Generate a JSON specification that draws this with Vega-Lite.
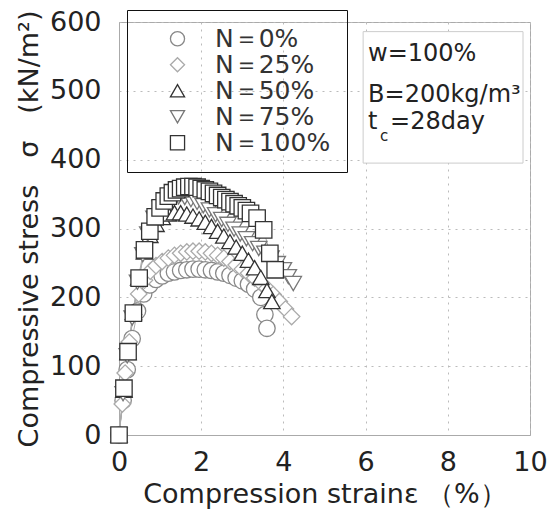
{
  "$schema": "https://vega.github.io/schema/vega-lite/v6.json",
  "width": 411,
  "height": 413,
  "autosize": "none",
  "padding": {"left": 119, "top": 22, "right": 22, "bottom": 87},
  "background": "white",
  "data": {"values": [
    {"N": "N＝0%", "strain": 0, "stress": 0},
    {"N": "N＝0%", "strain": 0.1, "stress": 50},
    {"N": "N＝0%", "strain": 0.2, "stress": 95},
    {"N": "N＝0%", "strain": 0.32, "stress": 140},
    {"N": "N＝0%", "strain": 0.45, "stress": 180},
    {"N": "N＝0%", "strain": 0.6, "stress": 205},
    {"N": "N＝0%", "strain": 0.75, "stress": 218},
    {"N": "N＝0%", "strain": 0.9, "stress": 226},
    {"N": "N＝0%", "strain": 1.05, "stress": 231},
    {"N": "N＝0%", "strain": 1.2, "stress": 235},
    {"N": "N＝0%", "strain": 1.35, "stress": 237},
    {"N": "N＝0%", "strain": 1.5, "stress": 239},
    {"N": "N＝0%", "strain": 1.65, "stress": 240},
    {"N": "N＝0%", "strain": 1.8, "stress": 241},
    {"N": "N＝0%", "strain": 1.95, "stress": 241},
    {"N": "N＝0%", "strain": 2.1, "stress": 240},
    {"N": "N＝0%", "strain": 2.25, "stress": 239},
    {"N": "N＝0%", "strain": 2.4, "stress": 237},
    {"N": "N＝0%", "strain": 2.55, "stress": 235},
    {"N": "N＝0%", "strain": 2.7, "stress": 232},
    {"N": "N＝0%", "strain": 2.85, "stress": 228},
    {"N": "N＝0%", "strain": 3.0, "stress": 224},
    {"N": "N＝0%", "strain": 3.15, "stress": 219},
    {"N": "N＝0%", "strain": 3.3, "stress": 212},
    {"N": "N＝0%", "strain": 3.45, "stress": 200},
    {"N": "N＝0%", "strain": 3.55, "stress": 175},
    {"N": "N＝0%", "strain": 3.6, "stress": 155},
    {"N": "N＝25%", "strain": 0, "stress": 0},
    {"N": "N＝25%", "strain": 0.08, "stress": 45},
    {"N": "N＝25%", "strain": 0.15, "stress": 90},
    {"N": "N＝25%", "strain": 0.25, "stress": 135},
    {"N": "N＝25%", "strain": 0.36, "stress": 175},
    {"N": "N＝25%", "strain": 0.48, "stress": 205},
    {"N": "N＝25%", "strain": 0.62, "stress": 225},
    {"N": "N＝25%", "strain": 0.76, "stress": 238},
    {"N": "N＝25%", "strain": 0.9, "stress": 246},
    {"N": "N＝25%", "strain": 1.05, "stress": 252},
    {"N": "N＝25%", "strain": 1.2, "stress": 257},
    {"N": "N＝25%", "strain": 1.35, "stress": 261},
    {"N": "N＝25%", "strain": 1.5, "stress": 264},
    {"N": "N＝25%", "strain": 1.65, "stress": 266},
    {"N": "N＝25%", "strain": 1.8, "stress": 267},
    {"N": "N＝25%", "strain": 1.95, "stress": 267},
    {"N": "N＝25%", "strain": 2.1, "stress": 266},
    {"N": "N＝25%", "strain": 2.25, "stress": 264},
    {"N": "N＝25%", "strain": 2.4, "stress": 261},
    {"N": "N＝25%", "strain": 2.55, "stress": 257},
    {"N": "N＝25%", "strain": 2.7, "stress": 252},
    {"N": "N＝25%", "strain": 2.85, "stress": 247},
    {"N": "N＝25%", "strain": 3.0, "stress": 241},
    {"N": "N＝25%", "strain": 3.15, "stress": 235},
    {"N": "N＝25%", "strain": 3.3, "stress": 228},
    {"N": "N＝25%", "strain": 3.45, "stress": 221},
    {"N": "N＝25%", "strain": 3.6, "stress": 213},
    {"N": "N＝25%", "strain": 3.75, "stress": 204},
    {"N": "N＝25%", "strain": 3.9, "stress": 194},
    {"N": "N＝25%", "strain": 4.05, "stress": 183},
    {"N": "N＝25%", "strain": 4.2, "stress": 172},
    {"N": "N＝50%", "strain": 0, "stress": 0},
    {"N": "N＝50%", "strain": 0.12, "stress": 65},
    {"N": "N＝50%", "strain": 0.22, "stress": 120},
    {"N": "N＝50%", "strain": 0.35, "stress": 178},
    {"N": "N＝50%", "strain": 0.48, "stress": 228},
    {"N": "N＝50%", "strain": 0.62, "stress": 266},
    {"N": "N＝50%", "strain": 0.75, "stress": 290},
    {"N": "N＝50%", "strain": 0.9, "stress": 306},
    {"N": "N＝50%", "strain": 1.05, "stress": 316},
    {"N": "N＝50%", "strain": 1.2, "stress": 321},
    {"N": "N＝50%", "strain": 1.35, "stress": 323},
    {"N": "N＝50%", "strain": 1.5, "stress": 323},
    {"N": "N＝50%", "strain": 1.65, "stress": 321},
    {"N": "N＝50%", "strain": 1.8, "stress": 318},
    {"N": "N＝50%", "strain": 1.95, "stress": 314},
    {"N": "N＝50%", "strain": 2.1, "stress": 309},
    {"N": "N＝50%", "strain": 2.25, "stress": 303},
    {"N": "N＝50%", "strain": 2.4, "stress": 296},
    {"N": "N＝50%", "strain": 2.55, "stress": 289},
    {"N": "N＝50%", "strain": 2.7, "stress": 281},
    {"N": "N＝50%", "strain": 2.85, "stress": 273},
    {"N": "N＝50%", "strain": 3.0, "stress": 264},
    {"N": "N＝50%", "strain": 3.15, "stress": 254},
    {"N": "N＝50%", "strain": 3.3, "stress": 243},
    {"N": "N＝50%", "strain": 3.45, "stress": 229},
    {"N": "N＝50%", "strain": 3.6, "stress": 210},
    {"N": "N＝50%", "strain": 3.72, "stress": 194},
    {"N": "N＝75%", "strain": 0, "stress": 0},
    {"N": "N＝75%", "strain": 0.1, "stress": 60},
    {"N": "N＝75%", "strain": 0.2, "stress": 115},
    {"N": "N＝75%", "strain": 0.32, "stress": 170},
    {"N": "N＝75%", "strain": 0.45, "stress": 222},
    {"N": "N＝75%", "strain": 0.58, "stress": 262},
    {"N": "N＝75%", "strain": 0.7, "stress": 292},
    {"N": "N＝75%", "strain": 0.85, "stress": 315},
    {"N": "N＝75%", "strain": 1.0, "stress": 330},
    {"N": "N＝75%", "strain": 1.15, "stress": 339},
    {"N": "N＝75%", "strain": 1.3, "stress": 344},
    {"N": "N＝75%", "strain": 1.45, "stress": 346},
    {"N": "N＝75%", "strain": 1.6, "stress": 345},
    {"N": "N＝75%", "strain": 1.75, "stress": 342},
    {"N": "N＝75%", "strain": 1.9, "stress": 338},
    {"N": "N＝75%", "strain": 2.05, "stress": 333},
    {"N": "N＝75%", "strain": 2.2, "stress": 327},
    {"N": "N＝75%", "strain": 2.35, "stress": 320},
    {"N": "N＝75%", "strain": 2.5, "stress": 313},
    {"N": "N＝75%", "strain": 2.65, "stress": 306},
    {"N": "N＝75%", "strain": 2.8, "stress": 299},
    {"N": "N＝75%", "strain": 2.95, "stress": 292},
    {"N": "N＝75%", "strain": 3.1, "stress": 285},
    {"N": "N＝75%", "strain": 3.25, "stress": 278},
    {"N": "N＝75%", "strain": 3.4, "stress": 271},
    {"N": "N＝75%", "strain": 3.55, "stress": 264},
    {"N": "N＝75%", "strain": 3.7, "stress": 257},
    {"N": "N＝75%", "strain": 3.85, "stress": 249},
    {"N": "N＝75%", "strain": 4.0, "stress": 240},
    {"N": "N＝75%", "strain": 4.12, "stress": 230},
    {"N": "N＝75%", "strain": 4.24, "stress": 220},
    {"N": "N＝100%", "strain": 0, "stress": 0},
    {"N": "N＝100%", "strain": 0.12, "stress": 68},
    {"N": "N＝100%", "strain": 0.22, "stress": 121},
    {"N": "N＝100%", "strain": 0.35, "stress": 177},
    {"N": "N＝100%", "strain": 0.49, "stress": 228},
    {"N": "N＝100%", "strain": 0.62, "stress": 269},
    {"N": "N＝100%", "strain": 0.75, "stress": 296},
    {"N": "N＝100%", "strain": 0.88, "stress": 317},
    {"N": "N＝100%", "strain": 1.0, "stress": 330},
    {"N": "N＝100%", "strain": 1.1, "stress": 340},
    {"N": "N＝100%", "strain": 1.2, "stress": 347},
    {"N": "N＝100%", "strain": 1.3, "stress": 352},
    {"N": "N＝100%", "strain": 1.4, "stress": 356},
    {"N": "N＝100%", "strain": 1.5, "stress": 358},
    {"N": "N＝100%", "strain": 1.6, "stress": 360},
    {"N": "N＝100%", "strain": 1.7, "stress": 361},
    {"N": "N＝100%", "strain": 1.8, "stress": 361},
    {"N": "N＝100%", "strain": 1.9, "stress": 360},
    {"N": "N＝100%", "strain": 2.0, "stress": 358},
    {"N": "N＝100%", "strain": 2.1, "stress": 356},
    {"N": "N＝100%", "strain": 2.2, "stress": 354},
    {"N": "N＝100%", "strain": 2.3, "stress": 351},
    {"N": "N＝100%", "strain": 2.4, "stress": 348},
    {"N": "N＝100%", "strain": 2.5, "stress": 345},
    {"N": "N＝100%", "strain": 2.6, "stress": 342},
    {"N": "N＝100%", "strain": 2.7, "stress": 339},
    {"N": "N＝100%", "strain": 2.8, "stress": 336},
    {"N": "N＝100%", "strain": 2.9, "stress": 333},
    {"N": "N＝100%", "strain": 3.0, "stress": 330},
    {"N": "N＝100%", "strain": 3.1, "stress": 326},
    {"N": "N＝100%", "strain": 3.2, "stress": 322},
    {"N": "N＝100%", "strain": 3.36, "stress": 315},
    {"N": "N＝100%", "strain": 3.52, "stress": 298},
    {"N": "N＝100%", "strain": 3.67, "stress": 264},
    {"N": "N＝100%", "strain": 3.8, "stress": 240}
  ]},
  "layer": [
    {
      "mark": {"type": "line", "strokeWidth": 1, "color": "#aaaaaa"},
      "encoding": {
        "x": {"field": "strain", "type": "quantitative", "scale": {"domain": [0, 10], "nice": false},
              "axis": {"values": [0, 2, 4, 6, 8, 10], "title": "Compression strainε （%）", "labelPadding": 14, "titlePadding": 6, "labelFlush": false}},
        "y": {"field": "stress", "type": "quantitative", "scale": {"domain": [0, 600], "nice": false},
              "axis": {"values": [0, 100, 200, 300, 400, 500, 600], "title": "Compressive stress　σ　(kN/m²)", "labelPadding": 18, "titlePadding": 6, "labelFlush": false}},
        "detail": {"field": "N", "type": "nominal"}
      }
    },
    {
      "mark": {"type": "point", "fill": "white", "opacity": 1, "strokeWidth": 1.3, "size": 270},
      "encoding": {
        "x": {"field": "strain", "type": "quantitative"},
        "y": {"field": "stress", "type": "quantitative"},
        "shape": {"field": "N", "type": "nominal",
                  "scale": {"domain": ["N＝0%", "N＝25%", "N＝50%", "N＝75%", "N＝100%"], "range": ["circle", "diamond", "triangle-up", "triangle-down", "square"]},
                  "legend": {"orient": "none", "legendX": 8, "legendY": -12, "title": null, "clipHeight": 25.5, "rowPadding": 0, "padding": 16,
                             "strokeColor": "#111111", "symbolSize": 200, "symbolOffset": 22, "labelOffset": 25,
                             "labelFontSize": 25, "labelFont": "DejaVu Sans", "labelColor": "#333333", "symbolFillColor": "white", "symbolStrokeWidth": 1.3, "labelLimit": 0}},
        "stroke": {"field": "N", "type": "nominal",
                   "scale": {"domain": ["N＝0%", "N＝25%", "N＝50%", "N＝75%", "N＝100%"], "range": ["#888888", "#aaaaaa", "#333333", "#777777", "#333333"]},
                   "legend": {"orient": "none", "legendX": 8, "legendY": -12, "title": null, "clipHeight": 25.5, "rowPadding": 0, "padding": 16,
                             "strokeColor": "#111111", "symbolSize": 200, "symbolOffset": 22, "labelOffset": 25,
                             "labelFontSize": 25, "labelFont": "DejaVu Sans", "labelColor": "#333333", "symbolFillColor": "white", "symbolStrokeWidth": 1.3, "labelLimit": 0}}
      }
    },
    {
      "data": {"values": [{"box": "info"}]},
      "mark": {"type": "rect", "fill": "white", "stroke": "#cccccc", "strokeWidth": 1},
      "encoding": {
        "x": {"datum": 5.94}, "x2": {"datum": 9.83},
        "y": {"datum": 586}, "y2": {"datum": 395}
      }
    },
    {
      "data": {"values": [{"label": "w=100%"}]},
      "mark": {"type": "text", "align": "left", "baseline": "middle", "fontSize": 24, "font": "DejaVu Sans", "color": "#222222"},
      "encoding": {"x": {"datum": 6.06}, "y": {"datum": 554}, "text": {"field": "label"}}
    },
    {
      "data": {"values": [{"label": "B=200kg/m³"}]},
      "mark": {"type": "text", "align": "left", "baseline": "middle", "fontSize": 24, "font": "DejaVu Sans", "color": "#222222"},
      "encoding": {"x": {"datum": 6.06}, "y": {"datum": 494}, "text": {"field": "label"}}
    },
    {
      "data": {"values": [{"label": "t"}]},
      "mark": {"type": "text", "align": "left", "baseline": "middle", "fontSize": 24, "font": "DejaVu Sans", "color": "#222222"},
      "encoding": {"x": {"datum": 6.06}, "y": {"datum": 455}, "text": {"field": "label"}}
    },
    {
      "data": {"values": [{"label": "c"}]},
      "mark": {"type": "text", "align": "left", "baseline": "middle", "fontSize": 15, "font": "DejaVu Sans", "color": "#222222", "dx": 12},
      "encoding": {"x": {"datum": 6.06}, "y": {"datum": 435}, "text": {"field": "label"}}
    },
    {
      "data": {"values": [{"label": "=28day"}]},
      "mark": {"type": "text", "align": "left", "baseline": "middle", "fontSize": 24, "font": "DejaVu Sans", "color": "#222222", "dx": 22},
      "encoding": {"x": {"datum": 6.06}, "y": {"datum": 455}, "text": {"field": "label"}}
    }
  ],
  "config": {
    "view": {"stroke": "#aaaaaa"},
    "axis": {"labelFont": "DejaVu Sans", "titleFont": "DejaVu Sans", "labelFontSize": 27, "titleFontSize": 27,
             "labelColor": "#222222", "titleColor": "#222222", "titleFontWeight": "normal",
             "gridColor": "#bbbbbb", "gridDash": [2, 5], "domainColor": "#aaaaaa", "ticks": false}
  }
}
